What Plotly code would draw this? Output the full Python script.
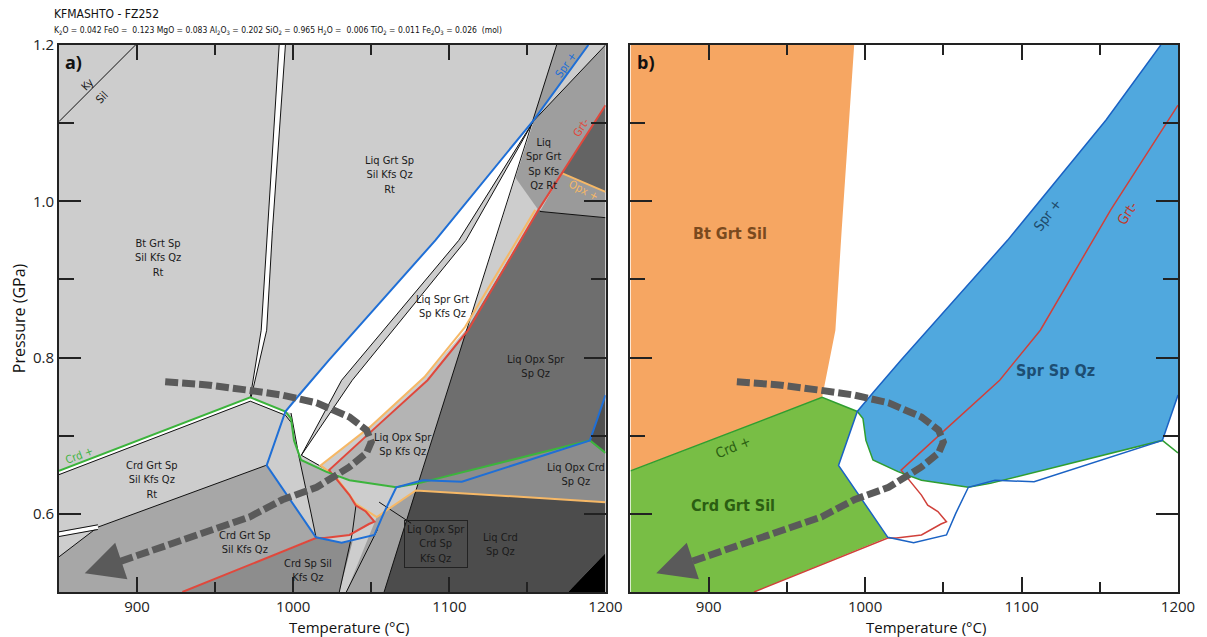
import plotly.graph_objects as go

T_RANGE = [850, 1200]
P_RANGE = [0.5, 1.2]

# ---------------- reaction / boundary lines (T in degC, P in GPa) ----------------
kysil_T = [850, 899]
kysil_P = [1.102, 1.2]

btband_left_T = [991, 983.5, 979.5, 972.5]
btband_right_T = [995, 986.7, 983, 973]
btband_P = [1.2, 0.963, 0.835, 0.749]

crd_T = [850, 972.5, 995, 998.6, 1000.5, 1005, 1021, 1036, 1066, 1080, 1190, 1200]
crd_P = [0.655, 0.749, 0.731, 0.722, 0.694, 0.669, 0.654, 0.643, 0.634, 0.639, 0.694, 0.678]

spr_T = [1189, 1154, 1091, 1023, 1005, 995, 983, 1014.5, 1031, 1052, 1058, 1066, 1083, 1108, 1190, 1200]
spr_P = [1.2, 1.104, 0.95, 0.797, 0.755, 0.731, 0.662, 0.570, 0.563, 0.573, 0.601, 0.634, 0.643, 0.641, 0.694, 0.752]

grt_T = [1200, 1157, 1112, 1086, 1053, 1023, 1036, 1040, 1046.5, 1052, 1048.5, 1036, 1020, 1014.5, 929]
grt_P = [1.123, 0.989, 0.835, 0.771, 0.711, 0.656, 0.624, 0.611, 0.603, 0.590, 0.587, 0.573, 0.569, 0.569, 0.5]

opx_upper_T = [1172, 1200]
opx_upper_P = [1.036, 1.012]
opx_T = [1155, 1110, 1084, 1049, 1017.5, 1027, 1035.5, 1040, 1053.5, 1078.5, 1200]
opx_P = [0.989, 0.839, 0.775, 0.711, 0.662, 0.648, 0.626, 0.613, 0.596, 0.630, 0.615]

# thin black field boundaries (panel a)
steep_T = [1168.7, 1078.6]
steep_P = [1.2, 0.630]
corner_T = [1200, 1154]
corner_P = [1.2, 1.103]
lens1_T = [1154, 1110.6, 1037.8, 1005.2]
lens1_P = [1.103, 0.950, 0.771, 0.675]
lens2_T = [1154, 1106, 1031, 1005.2]
lens2_P = [1.103, 0.950, 0.771, 0.675]
crdgrt_T = [982.5, 874.9]
crdgrt_P = [0.662, 0.583]
dbl_T = [874.9, 850]
dbl_P = [0.583, 0.574]
low_T = [874.9, 850]
low_P = [0.583, 0.545]
l5_T = [998.6, 1003.7, 1011.4, 1014.6]
l5_P = [0.729, 0.673, 0.601, 0.570]
l6_T = [1005.2, 1021]
l6_P = [0.675, 0.657]
opxbase_T = [1158, 1200]
opxbase_P = [0.987, 0.979]
curveA_T = [1040.2, 1037.8, 1029.5]
curveA_P = [0.611, 0.575, 0.5]
lineB_T = [1034, 1054]
lineB_P = [0.5, 0.58]
lineC_T = [1078.6, 1058.2]
lineC_P = [0.630, 0.5]
pointer_T = [1055, 1075.5]
pointer_P = [0.615, 0.588]

# ---------------- fields (polygons) panel a ----------------
f_crd_grt_sp_T = [850, 874.9, 982.5, 1014.5, 929, 850]
f_crd_grt_sp_P = [0.545, 0.583, 0.662, 0.570, 0.5, 0.5]
f_crd_sp_sil_T = [929, 1014.5, 1031, 1038, 1029.5]
f_crd_sp_sil_P = [0.5, 0.569, 0.563, 0.565, 0.5]
f_box_T = [1034, 1053.5, 1078.5, 1058.2]
f_box_P = [0.5, 0.596, 0.630, 0.5]
f_liq_crd_T = [1078.5, 1200, 1200, 1176, 1058.2]
f_liq_crd_P = [0.630, 0.615, 0.55, 0.5, 0.5]
f_corner_T = [1176, 1200, 1200]
f_corner_P = [0.5, 0.55, 0.5]
f_liq_opx_crd_T = [1078.5, 1080, 1190, 1200, 1200]
f_liq_opx_crd_P = [0.630, 0.639, 0.694, 0.678, 0.615]
f_edge_T = [1190, 1200, 1200]
f_edge_P = [0.694, 0.752, 0.678]
f_liq_opx_spr_T = [1157, 1111, 1080, 1190, 1200, 1200]
f_liq_opx_spr_P = [0.989, 0.836, 0.639, 0.694, 0.752, 0.979]
f_liq_opx_kfs_T = [1111, 1086, 1053, 1023, 1036, 1066, 1080]
f_liq_opx_kfs_P = [0.836, 0.771, 0.711, 0.656, 0.643, 0.634, 0.639]
f_loop_T = [1005, 1021, 1023, 1036, 1040, 1046.5, 1052, 1048.5, 1036, 1020, 1014.5, 1011.4, 1003.7]
f_loop_P = [0.669, 0.654, 0.656, 0.624, 0.611, 0.603, 0.590, 0.587, 0.573, 0.569, 0.570, 0.601, 0.673]
f_spr_rt_T = [1168.7, 1142, 1157, 1200, 1200]
f_spr_rt_P = [1.2, 1.031, 0.989, 1.123, 1.2]
f_top_strip_T = [1189, 1200, 1154]
f_top_strip_P = [1.2, 1.2, 1.103]
f_grt_out_T = [1200, 1172, 1200]
f_grt_out_P = [1.123, 1.036, 1.012]
f_opx_in_T = [1172, 1200, 1200, 1158]
f_opx_in_P = [1.036, 1.012, 0.979, 0.987]
f_white_strip_T = [1154, 1091, 1023, 1005, 995, 998.6, 1003.7, 1005.2, 1031, 1106]
f_white_strip_P = [1.104, 0.95, 0.797, 0.755, 0.731, 0.729, 0.673, 0.675, 0.771, 0.95]
f_white_main_T = [1005.2, 1037.8, 1110.6, 1154, 1111.5, 1084, 1049, 1017.5]
f_white_main_P = [0.675, 0.771, 0.950, 1.103, 0.838, 0.775, 0.711, 0.662]

# ---------------- fields panel b ----------------
b_bt_T = [850, 993, 985, 981, 972.5, 850]
b_bt_P = [1.2, 1.2, 0.963, 0.835, 0.749, 0.655]
b_crd_T = [850, 972.5, 995, 983, 1014.5, 929, 850]
b_crd_P = [0.655, 0.749, 0.731, 0.662, 0.570, 0.5, 0.5]
b_spr_T = [1189, 1154, 1091, 1023, 1005, 995, 998.6, 1000.5, 1005, 1021, 1036, 1066, 1080, 1190, 1200, 1200]
b_spr_P = [1.2, 1.104, 0.95, 0.797, 0.755, 0.731, 0.722, 0.694, 0.669, 0.654, 0.643, 0.634, 0.639, 0.694, 0.752, 1.2]

# ---------------- P-T path ----------------
path_T = [918, 945, 972, 993, 1015, 1036, 1047, 1050, 1047, 1036, 1015, 993, 972, 886]
path_P = [0.769, 0.765, 0.758, 0.752, 0.742, 0.724, 0.707, 0.692, 0.678, 0.660, 0.634, 0.618, 0.596, 0.537]
tip_T, tip_P = 866.5, 0.524

# ---------------- styling ----------------
LG = '#cdcdcd'
BLUE_A, RED_A, GREEN_A, ORANGE_A = '#1f6fd6', '#e0483c', '#3cb43c', '#f6b866'
BLUE_B, RED_B, GREEN_B = '#1a62c4', '#d0403a', '#2f9e2f'
FILL_OR, FILL_GR, FILL_BL = '#f6a662', '#78be45', '#50a8de'
FONT_LBL = "Liberation Sans Narrow, DejaVu Sans Condensed, Arial Narrow, sans-serif"
FONT_AX = "Open Sans, Liberation Sans, sans-serif"
PATH_COL = '#5a5a5a'

fig = go.Figure()


def poly(T, P, color, xa='x', ya='y', outline=None, w=1):
    fig.add_trace(go.Scatter(x=T, y=P, xaxis=xa, yaxis=ya, fill='toself', fillcolor=color,
                             mode='lines' if outline else 'none',
                             line=dict(color=outline or color, width=w),
                             hoverinfo='skip', showlegend=False))


def line(T, P, color, w=1, xa='x', ya='y', dash='solid'):
    fig.add_trace(go.Scatter(x=T, y=P, xaxis=xa, yaxis=ya, mode='lines',
                             line=dict(color=color, width=w, dash=dash),
                             hoverinfo='skip', showlegend=False))


# ===== panel a =====
poly([T_RANGE[0], T_RANGE[1], T_RANGE[1], T_RANGE[0]], [P_RANGE[0], P_RANGE[0], P_RANGE[1], P_RANGE[1]], LG)
poly(f_crd_grt_sp_T, f_crd_grt_sp_P, '#a7a7a7')
poly(f_crd_sp_sil_T, f_crd_sp_sil_P, '#8d8d8d')
poly(f_box_T, f_box_P, '#a2a2a2')
poly(f_liq_crd_T, f_liq_crd_P, '#4c4c4c')
poly(f_corner_T, f_corner_P, '#000000')
poly(f_liq_opx_crd_T, f_liq_opx_crd_P, '#8c8c8c')
poly(f_edge_T, f_edge_P, '#505050')
poly(f_liq_opx_spr_T, f_liq_opx_spr_P, '#6e6e6e')
poly(f_liq_opx_kfs_T, f_liq_opx_kfs_P, '#b4b4b4')
poly(f_loop_T, f_loop_P, '#b4b4b4')
poly(f_spr_rt_T, f_spr_rt_P, '#9e9e9e')
poly(f_top_strip_T, f_top_strip_P, LG)
poly(f_grt_out_T, f_grt_out_P, '#646464')
poly(f_opx_in_T, f_opx_in_P, '#9a9a9a')
poly(f_white_strip_T, f_white_strip_P, '#ffffff')
poly(f_white_main_T, f_white_main_P, '#ffffff')
poly(btband_left_T + btband_right_T[::-1], btband_P + btband_P[::-1], '#ffffff', outline='#111111', w=1)

# thin black lines
for T, P in [(kysil_T, kysil_P), (steep_T, steep_P), (corner_T, corner_P), (lens1_T, lens1_P),
             (lens2_T, lens2_P), (crdgrt_T, crdgrt_P), (low_T, low_P), (l5_T, l5_P), (l6_T, l6_P),
             (opxbase_T, opxbase_P), (curveA_T, curveA_P), (lineB_T, lineB_P), (lineC_T, lineC_P),
             (pointer_T, pointer_P)]:
    line(T, P, '#111111', 1)
# double line at left edge
line(dbl_T, dbl_P, '#ffffff', 4)
line(dbl_T, [p + 0.003 for p in dbl_P], '#111111', 1)
line(dbl_T, [p - 0.003 for p in dbl_P], '#111111', 1)
# Crd+ white band with black companion
line(crd_T[:3], [p - 0.0025 for p in crd_P[:3]], '#ffffff', 3)
line(crd_T[:4], [p - 0.0048 for p in crd_P[:4]], '#111111', 1)

# coloured reaction lines
line(opx_upper_T, opx_upper_P, ORANGE_A, 2)
line(opx_T, opx_P, ORANGE_A, 2)
line(grt_T, grt_P, RED_A, 2)
line(crd_T, crd_P, GREEN_A, 2)
line(spr_T, spr_P, BLUE_A, 2)

# ===== panel b =====
poly(b_bt_T, b_bt_P, FILL_OR, 'x2', 'y2')
poly(b_crd_T, b_crd_P, FILL_GR, 'x2', 'y2')
poly(b_spr_T, b_spr_P, FILL_BL, 'x2', 'y2')
line(grt_T, grt_P, RED_B, 1.5, 'x2', 'y2')
line(crd_T, crd_P, GREEN_B, 1.5, 'x2', 'y2')
line(spr_T, spr_P, BLUE_B, 1.5, 'x2', 'y2')

# P-T paths
for xa, ya in [('x', 'y'), ('x2', 'y2')]:
    line(path_T, path_P, PATH_COL, 7, xa, ya, dash='13px,4px')

annotations = []


def lab(text, T, P, xa='x', ya='y', size=11, color='#1a1a1a', angle=0, bold=False, family=FONT_LBL, **kw):
    annotations.append(dict(text=text, x=T, y=P, xref=xa, yref=ya, showarrow=False,
                            textangle=angle,
                            font=dict(size=size, color=color, family=family,
                                      weight='bold' if bold else 'normal'), **kw))


for xa, ya in [('x', 'y'), ('x2', 'y2')]:
    annotations.append(dict(x=tip_T, y=tip_P, ax=path_T[-1], ay=path_P[-1], xref=xa, yref=ya,
                            axref=xa, ayref=ya, showarrow=True, arrowhead=2, arrowsize=1.1,
                            arrowwidth=7, arrowcolor=PATH_COL, text=' ', font=dict(size=1)))

# panel a labels
lab('Ky', 868.5, 1.149, angle=-46)
lab('Sil', 877.5, 1.133, angle=-46)
lab('Bt Grt Sp<br>Sil Kfs Qz<br>Rt', 913.2, 0.927)
lab('Liq Grt Sp<br>Sil Kfs Qz<br>Rt', 1061.4, 1.034)
lab('Liq<br>Spr Grt<br>Sp Kfs<br>Qz Rt', 1160.4, 1.048)
lab('Spr +', 1174.4, 1.174, color=BLUE_A, angle=-55)
lab('Grt-', 1184.7, 1.094, color=RED_A, angle=-57)
lab('Opx +', 1186, 1.014, color=ORANGE_A, angle=27)
lab('Liq Spr Grt<br>Sp Kfs Qz', 1095.3, 0.866)
lab('Liq Opx Spr<br>Sp Qz', 1155.3, 0.789)
lab('Liq Opx Spr<br>Sp Kfs Qz', 1070.4, 0.689)
lab('Crd +', 863.4, 0.675, color=GREEN_A, angle=-21)
lab('Crd Grt Sp<br>Sil Kfs Qz<br>Rt', 909.4, 0.643)
lab('Crd Grt Sp<br>Sil Kfs Qz', 968.8, 0.563)
lab('Crd Sp Sil<br>Kfs Qz', 1009.7, 0.527)
lab('Liq Opx Crd<br>Sp Qz', 1180.8, 0.650)
lab('Liq Opx Spr<br>Crd Sp<br>Kfs Qz', 1091.4, 0.561, bordercolor='#222222', borderwidth=1, borderpad=2)
lab('Liq Crd<br>Sp Qz', 1133, 0.561)

# panel b labels
lab('Bt Grt Sil', 913.8, 0.959, 'x2', 'y2', size=16, color='#7a4a1e', bold=True)
lab('Crd Grt Sil', 915.7, 0.611, 'x2', 'y2', size=16, color='#2b5e12', bold=True)
lab('Crd +', 915.7, 0.685, 'x2', 'y2', size=14, color='#2b5e12', angle=-22)
lab('Spr +', 1116.6, 0.982, 'x2', 'y2', size=14, color='#1e4a6a', angle=-53)
lab('Grt-', 1167.6, 0.985, 'x2', 'y2', size=14, color='#c0392b', angle=-57)
lab('Spr Sp Qz', 1121.7, 0.784, 'x2', 'y2', size=16, color='#1d4e73', bold=True)

# panel letters
for t, xa in [('a)', 'x'), ('b)', 'x2')]:
    annotations.append(dict(text=t, x=0.008, y=0.995, xref=xa + ' domain',
                            yref='y domain', xanchor='left', yanchor='top', showarrow=False,
                            font=dict(size=18, color='#111', family=FONT_AX, weight='bold')))

# header
annotations.append(dict(text='KFMASHTO - FZ252', x=-0.006, y=1.056, xref='paper', yref='paper',
                        xanchor='left', yanchor='middle', showarrow=False,
                        font=dict(size=12, color='#111', family=FONT_LBL)))
annotations.append(dict(text='K<sub>2</sub>O = 0.042 FeO =  0.123 MgO = 0.083 Al<sub>2</sub>O<sub>3</sub> = 0.202 '
                             'SiO<sub>2</sub> = 0.965 H<sub>2</sub>O =  0.006 TiO<sub>2</sub> = 0.011 '
                             'Fe<sub>2</sub>O<sub>3</sub> = 0.026  (mol)',
                        x=-0.006, y=1.027, xref='paper', yref='paper', xanchor='left', yanchor='middle',
                        showarrow=False, font=dict(size=8.5, color='#111', family=FONT_LBL)))
# axis titles
annotations.append(dict(text='Pressure (GPa)', x=-0.036, y=0.5, xref='paper', yref='paper',
                        textangle=-90, showarrow=False, xanchor='center', yanchor='middle',
                        font=dict(size=16, color='#111', family=FONT_AX)))
for xa, xc in [('x', 0.53), ('x2', 0.54)]:
    annotations.append(dict(text='Temperature (°C)', x=xc, y=-0.064, xref=xa + ' domain',
                            yref='paper', showarrow=False, yanchor='middle',
                            font=dict(size=15, color='#111', family=FONT_AX)))

xcommon = dict(range=T_RANGE, showgrid=False, zeroline=False, showline=True, linecolor='#222',
               linewidth=2, mirror='ticks', ticks='inside', ticklen=15, tickwidth=2, tickcolor='#222',
               dtick=100, tick0=0, tickfont=dict(size=15, family=FONT_AX, color='#222'),
               minor=dict(dtick=50, tick0=0, ticks='inside', ticklen=10, tickwidth=2, tickcolor='#222'))
ycommon = dict(range=P_RANGE, showgrid=False, zeroline=False, showline=True, linecolor='#222',
               linewidth=2, mirror='ticks', ticks='inside', ticklen=22, tickwidth=2, tickcolor='#222',
               dtick=0.2, tick0=0, tickformat='.1f', tickfont=dict(size=15, family=FONT_AX, color='#222'),
               minor=dict(dtick=0.1, tick0=0, ticks='inside', ticklen=15, tickwidth=2, tickcolor='#222'))

# the page adds an 8px body margin, so the figure is shrunk/shifted to land the axes where the reference has them
fig.update_layout(
    width=1199, height=629,
    margin=dict(l=51, r=26, t=37, b=45),
    plot_bgcolor='#ffffff', paper_bgcolor='#ffffff',
    showlegend=False,
    xaxis=dict(domain=[0, 0.4884], anchor='y', **xcommon),
    yaxis=dict(domain=[0, 1], anchor='x', **ycommon),
    xaxis2=dict(domain=[0.5107, 1], anchor='y2', **xcommon),
    yaxis2=dict(domain=[0, 1], anchor='x2', showticklabels=False, **ycommon),
    annotations=annotations,
)

fig.write_html('out.html')
